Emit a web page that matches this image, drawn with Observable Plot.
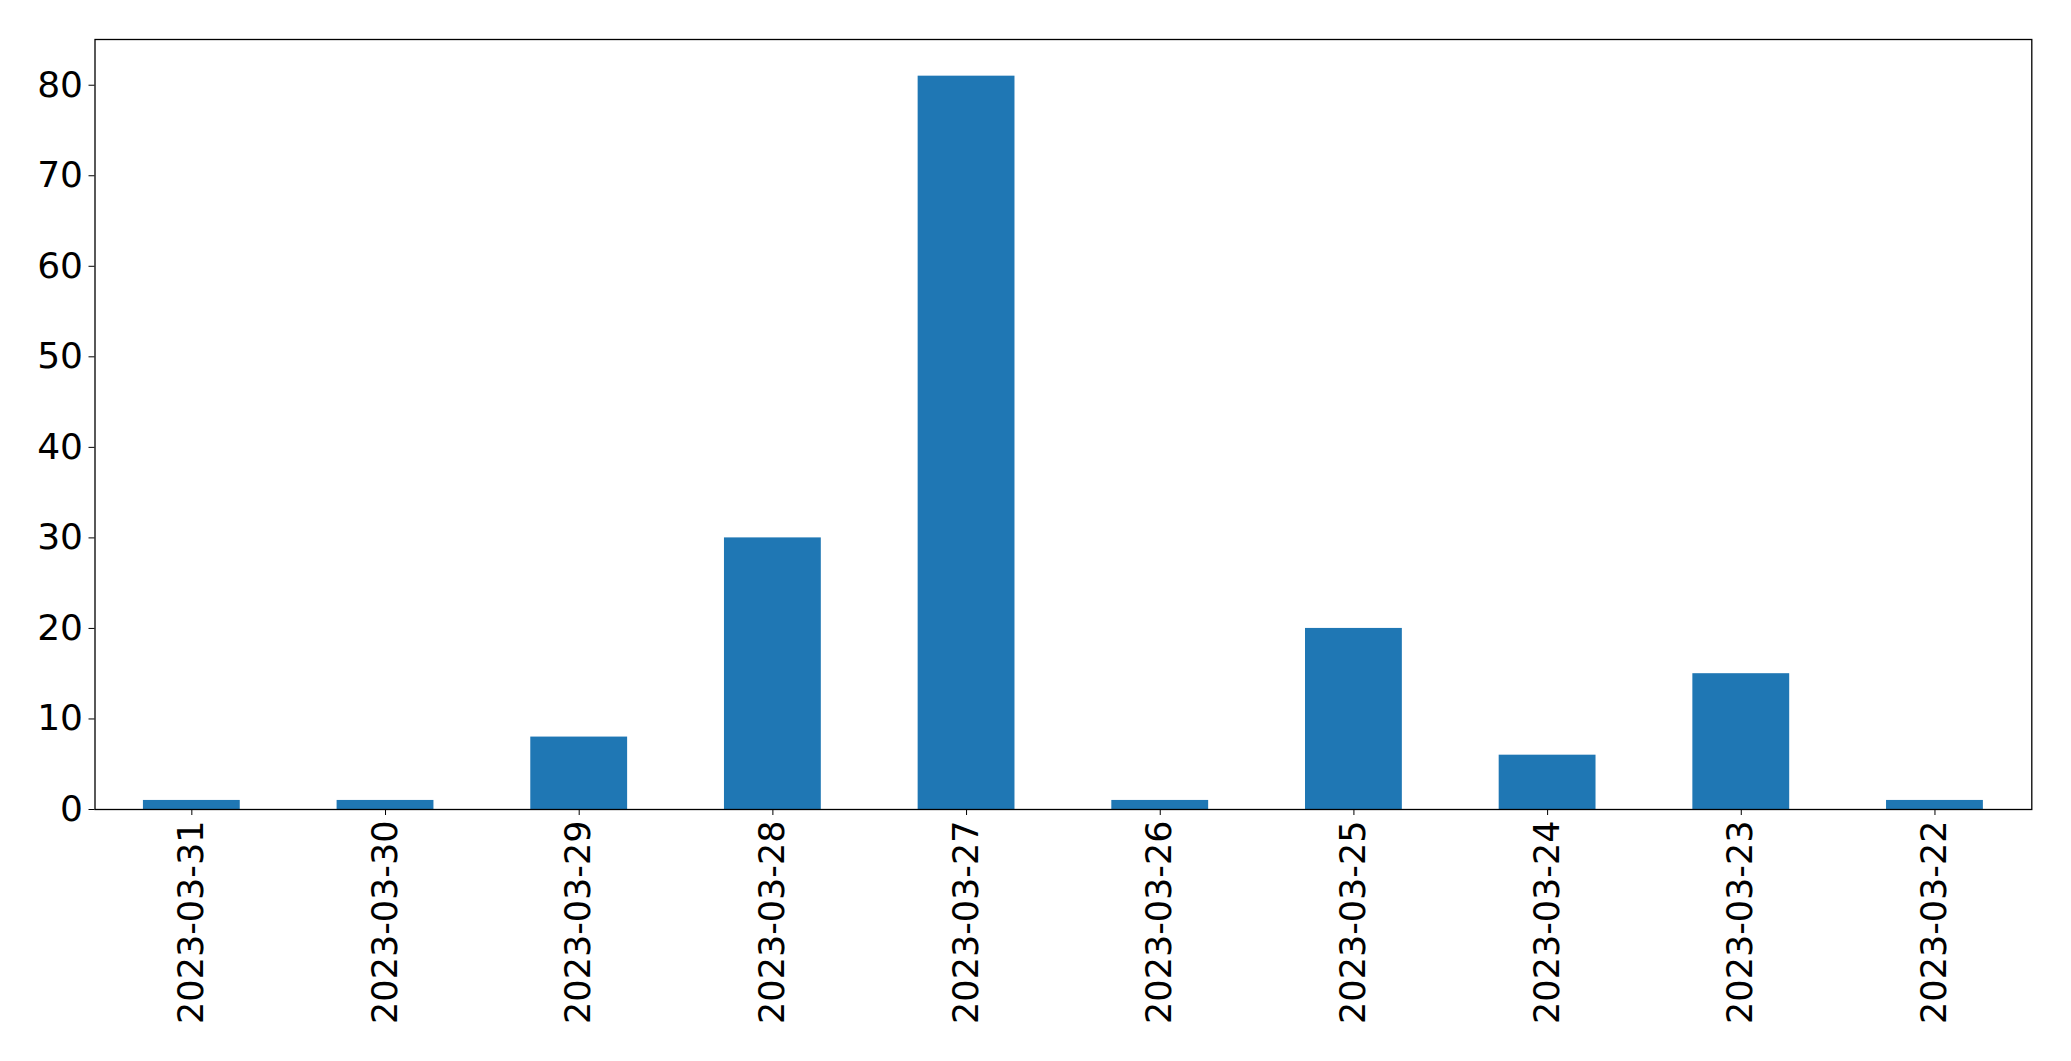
<!DOCTYPE html>
<html>
<head>
<meta charset="utf-8">
<script src="https://cdn.jsdelivr.net/npm/d3@7"></script>
<script src="https://cdn.jsdelivr.net/npm/@observablehq/plot@0.6"></script>
<style>
  html, body { margin: 0; padding: 0; background: #fff; }
  #chart svg { display: block; }
</style>
</head>
<body>
<div id="chart"></div>
<script>
const dates = ["2023-03-31","2023-03-30","2023-03-29","2023-03-28","2023-03-27","2023-03-26","2023-03-25","2023-03-24","2023-03-23","2023-03-22"];
const counts = [1, 1, 8, 30, 81, 1, 20, 6, 15, 1];
const yTicks = [0, 10, 20, 30, 40, 50, 60, 70, 80];

const data = dates.map((d, i) => ({date: d, count: counts[i]}));

const chart = Plot.plot({
  width: 2071,
  height: 1061,
  marginTop: 39,
  marginBottom: 252,
  marginLeft: 94.5,
  marginRight: 39.7,
  style: {fontFamily: "DejaVu Sans", background: "#fff", color: "#000"},
  x: {domain: dates, paddingInner: 0.5, paddingOuter: 0.25, round: false, label: null},
  y: {domain: [0, 85.05], label: null},
  marks: [
    Plot.barY(data, {x: "date", y: "count", fill: "#1f77b4"}),
    Plot.axisY({ticks: yTicks, tickSize: 6, tickPadding: 6, fontSize: 36, tickFormat: d => String(d), label: null, stroke: "#000", strokeOpacity: 1}),
    Plot.axisX({tickSize: 6, tickPadding: 5, fontSize: 35, tickRotate: -90, label: null, stroke: "#000", strokeOpacity: 1}),
    Plot.frame({stroke: "#000", strokeWidth: 1.3})
  ]
});
document.getElementById("chart").appendChild(chart);
</script>
</body>
</html>
